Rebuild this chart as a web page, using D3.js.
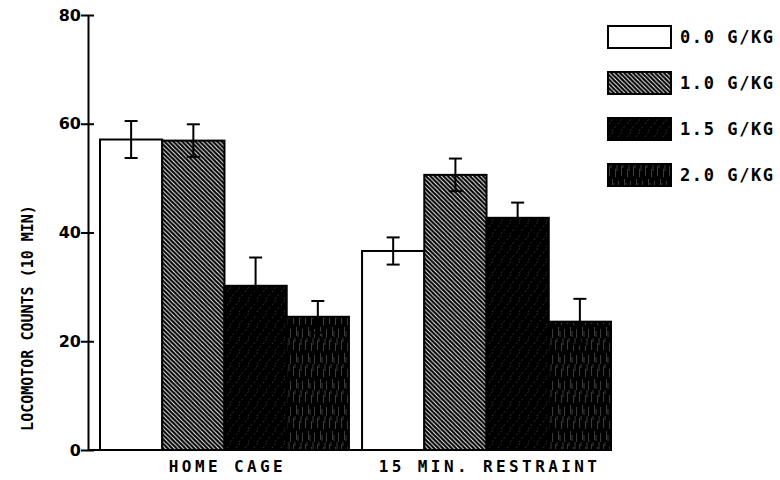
<!DOCTYPE html>
<html>
<head>
<meta charset="utf-8">
<script src="https://cdn.jsdelivr.net/npm/d3@7"></script>
<style>
  body { margin: 0; background: #fff; }
  text { fill: #000; }
</style>
</head>
<body>
<svg id="chart" width="780" height="480"></svg>
<script>

const groups = ["HOME CAGE", "15 MIN. RESTRAINT"]
const doses = ["0.0 G/KG", "1.0 G/KG", "1.5 G/KG", "2.0 G/KG"]
const homeCage = [57.1, 56.9, 30.2, 24.5]
const homeCageErr = [3.4, 3.0, 5.2, 2.9]
const restraint = [36.6, 50.6, 42.7, 23.6]
const restraintErr = [2.5, 3.0, 2.8, 4.2]
const yTicks = [0, 20, 40, 60, 80]
const yTitle = "LOCOMOTOR COUNTS (10 MIN)"

const fills = ["#fff", "url(#hatch10)", "url(#hatch15)", "url(#hatch20)"]

let rows = [
  { group: groups[0], values: homeCage, errs: homeCageErr },
  { group: groups[1], values: restraint, errs: restraintErr }
]

let svg = d3.select("#chart")
let defs = svg.append("defs")

// 1.0 g/kg : dense back-slash hatching
let p1 = defs.append("pattern").attr("id", "hatch10")
  .attr("patternUnits", "userSpaceOnUse").attr("width", 4.4).attr("height", 4.4)
p1.append("rect").attr("width", 4.4).attr("height", 4.4).attr("fill", "#000")
p1.append("path").attr("d", "M0,0L4.4,4.4M-2.2,2.2L2.2,6.6M2.2,-2.2L6.6,2.2")
  .attr("stroke", "#fff").attr("stroke-width", 0.95)

// 1.5 g/kg : black with faint forward-slash marks
let p2 = defs.append("pattern").attr("id", "hatch15")
  .attr("patternUnits", "userSpaceOnUse").attr("width", 9).attr("height", 13)
p2.append("rect").attr("width", 9).attr("height", 13).attr("fill", "#000")
p2.append("path").attr("d", "M1,6L5,1M4,13L8,8")
  .attr("stroke", "#fff").attr("stroke-width", 0.6).attr("stroke-opacity", 0.3)
  .attr("stroke-dasharray", "2,2")

// 2.0 g/kg : black with faint vertical streaks
let p3 = defs.append("pattern").attr("id", "hatch20")
  .attr("patternUnits", "userSpaceOnUse").attr("width", 12).attr("height", 26)
p3.append("rect").attr("width", 12).attr("height", 26).attr("fill", "#000")
p3.append("path")
  .attr("d", "M1.5,2L1.5,12M4.5,15L4.5,24M7.5,5L7.5,13M10.5,17L10.5,26M3,0L3,4M9,0L9,7M6,19L6,25")
  .attr("stroke", "#fff").attr("stroke-width", 0.6).attr("stroke-opacity", 0.4)

let x0 = d3.scaleBand().domain(groups).range([100, 611]).paddingInner(0.05)
let x1 = d3.scaleBand().domain(doses).range([0, x0.bandwidth()])
let y = d3.scaleLinear().domain([0, 80]).range([450, 15])

// bars
let g = svg.append("g")
let grp = g.selectAll("g.grp").data(rows).enter().append("g")
  .attr("transform", d => "translate(" + x0(d.group) + ",0)")

grp.selectAll("rect")
  .data(d => d.values.map((v, i) => ({ dose: doses[i], v: v, e: d.errs[i], i: i })))
  .enter().append("rect")
  .attr("x", d => x1(d.dose))
  .attr("y", d => y(d.v))
  .attr("width", x1.bandwidth())
  .attr("height", d => y(0) - y(d.v))
  .attr("fill", d => fills[d.i])
  .attr("stroke", "#000").attr("stroke-width", 2)

// error bars
let eb = grp.selectAll("g.err")
  .data(d => d.values.map((v, i) => ({ dose: doses[i], v: v, e: d.errs[i] })))
  .enter().append("g")
  .attr("transform", d => "translate(" + (x1(d.dose) + x1.bandwidth() / 2) + ",0)")
eb.append("line").attr("y1", d => y(d.v + d.e)).attr("y2", d => y(d.v - d.e))
  .attr("stroke", "#000").attr("stroke-width", 2)
eb.append("line").attr("x1", -6.5).attr("x2", 6.5)
  .attr("y1", d => y(d.v + d.e)).attr("y2", d => y(d.v + d.e))
  .attr("stroke", "#000").attr("stroke-width", 2)
eb.append("line").attr("x1", -6.5).attr("x2", 6.5)
  .attr("y1", d => y(d.v - d.e)).attr("y2", d => y(d.v - d.e))
  .attr("stroke", "#000").attr("stroke-width", 2)

// baseline
svg.append("line").attr("x1", 88).attr("x2", x0.range()[1] + 1)
  .attr("y1", y(0)).attr("y2", y(0)).attr("stroke", "#000").attr("stroke-width", 2)

// y axis, ticks crossing the line
let yAxis = svg.append("g").attr("transform", "translate(88,0)")
  .call(d3.axisLeft(y).tickValues(yTicks).tickSizeInner(7).tickSizeOuter(0).tickPadding(4))
yAxis.select(".domain").attr("stroke-width", 2)
yAxis.selectAll(".tick line").attr("x2", 6).attr("x1", -7).attr("stroke-width", 2)
yAxis.selectAll(".tick text")
  .attr("font-family", "DejaVu Sans").attr("font-weight", "bold").attr("font-size", 16)
  .attr("x", -7)

// category labels
svg.selectAll("text.cat").data(groups).enter().append("text")
  .attr("x", d => x0(d) + x0.bandwidth() / 2 + 3)
  .attr("y", 472)
  .attr("text-anchor", "middle")
  .attr("font-family", "DejaVu Sans Mono").attr("font-weight", "bold")
  .attr("font-size", 16).attr("letter-spacing", 3.4)
  .text(d => d)

// y title
svg.append("text")
  .attr("transform", "translate(33,318) rotate(-90)")
  .attr("text-anchor", "middle")
  .attr("font-family", "DejaVu Sans Mono").attr("font-weight", "bold")
  .attr("font-size", 15).attr("letter-spacing", 0)
  .text(yTitle)

// legend
let lg = svg.append("g").selectAll("g").data(doses).enter().append("g")
  .attr("transform", (d, i) => "translate(608," + (26 + i * 46) + ")")
lg.append("rect").attr("width", 63).attr("height", 22)
  .attr("fill", (d, i) => fills[i]).attr("stroke", "#000").attr("stroke-width", 2)
lg.append("text").attr("x", 72).attr("y", 17)
  .attr("font-family", "DejaVu Sans Mono").attr("font-weight", "bold")
  .attr("font-size", 17).attr("letter-spacing", 1.6)
  .text(d => d)

</script>
</body>
</html>
